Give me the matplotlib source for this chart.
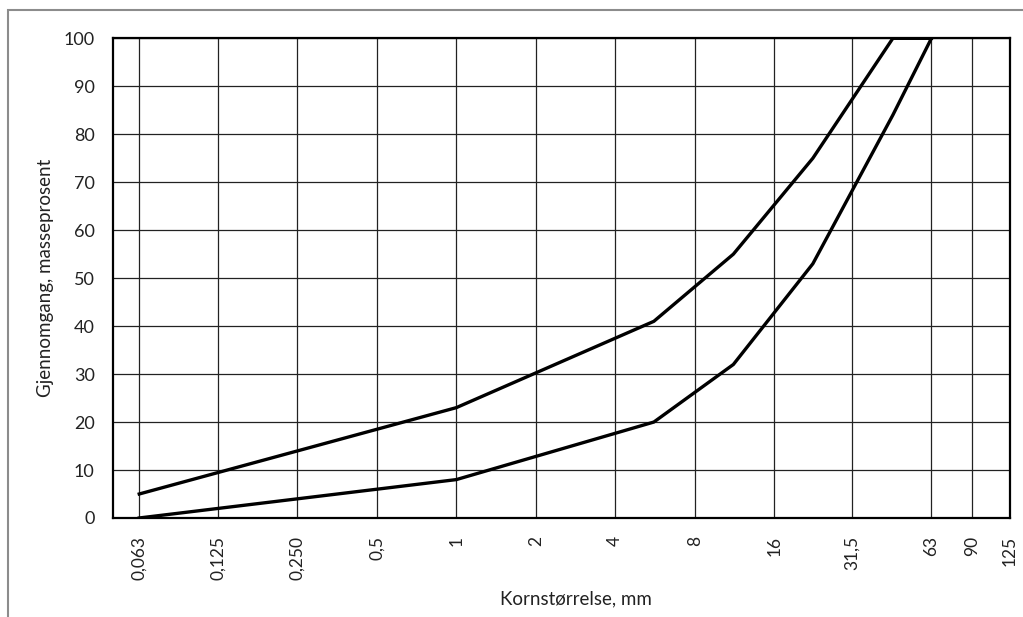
import matplotlib.pyplot as plt
from matplotlib.patches import Rectangle

# sikt-storleikar (mm) og gjennomgang (%)
sieves = [0.063, 0.125, 0.25, 0.5, 1, 2, 4, 8, 16, 31.5, 63, 90, 125]
sieve_labels = ["0,063", "0,125", "0,250", "0,5", "1", "2", "4", "8", "16", "31,5", "63", "90", "125"]

upper_x = [0.063, 1, 5.6, 11.2, 22.4, 45, 63]
upper_y = [5, 23, 41, 55, 75, 100, 100]

lower_x = [0.063, 1, 5.6, 11.2, 22.4, 45, 63]
lower_y = [0, 8, 20, 32, 53, 84, 100]

plt.rcParams['font.family'] = ['Lato', 'DejaVu Sans']

fig = plt.figure(figsize=(10.23, 6.17), dpi=100)
ax = fig.add_axes([0.1102, 0.1605, 0.8771, 0.7774])

ax.plot(upper_x, upper_y, c="black", lw=2.4)
ax.plot(lower_x, lower_y, c="black", lw=2.4)

ax.set_xscale("log", base=2)
ax.set_xlim(0.05, 125)
ax.set_ylim(0, 100)
ax.set_xticks(sieves)
ax.set_xticklabels(sieve_labels, rotation=90, fontsize=12.5, color="#222222")
ax.minorticks_off()
ax.set_yticks(range(0, 101, 10))
ax.tick_params(axis="y", length=0, pad=13, labelsize=13, labelcolor="#222222")
ax.tick_params(axis="x", length=0, pad=13)

ax.grid(True, color="#222222", lw=0.9)
for s in ax.spines.values():
    s.set_linewidth(1.6)
    s.set_color("black")

ax.set_xlabel("Kornstørrelse, mm", fontsize=13.5, color="#222222")
ax.xaxis.set_label_coords(0.516, -0.15)
ax.set_ylabel("Gjennomgang, masseprosent", fontsize=13.5, color="#222222")
ax.yaxis.set_label_coords(-0.066, 0.5)

# ramme rundt diagramområdet
fig.patches.append(Rectangle((8 / 1023, -0.1), 1.2, 1 - 10 / 617 + 0.1,
                             transform=fig.transFigure, fill=False,
                             edgecolor="#8c8c8c", lw=1.5))

fig.savefig("out.png", dpi=100)
